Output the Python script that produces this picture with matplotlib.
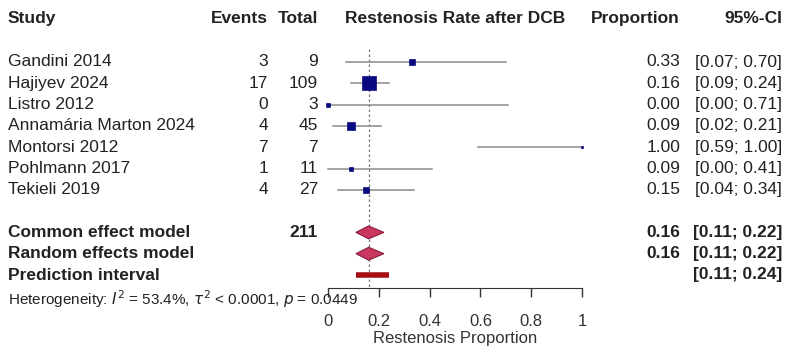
import matplotlib.pyplot as plt
from matplotlib.transforms import blended_transform_factory
from matplotlib.patches import Polygon

plt.rcParams['font.family'] = ['Liberation Sans', 'DejaVu Sans']

studies = ["Gandini 2014", "Hajiyev 2024", "Listro 2012", "Annamária Marton 2024",
           "Montorsi 2012", "Pohlmann 2017", "Tekieli 2019"]
events = [3, 17, 0, 4, 7, 1, 4]
totals = [9, 109, 3, 45, 7, 11, 27]
prop = [0.33, 0.16, 0.00, 0.09, 1.00, 0.09, 0.15]
ci_low = [0.07, 0.09, 0.00, 0.02, 0.59, 0.00, 0.04]
ci_high = [0.70, 0.24, 0.71, 0.21, 1.00, 0.41, 0.34]
weights = [7.4, 46.0, 1.9, 13.0, 1.3, 3.3, 7.4]  # approx. % weight (square size)

common = (0.16, 0.11, 0.22)
random_eff = (0.16, 0.11, 0.22)
pred_int = (0.11, 0.24)
total_n = 211

W, H = 788, 354
fig = plt.figure(figsize=(W / 100, H / 100), dpi=100)

row_h = 21.3
y0 = 62  # pixel row of first study
ax_bottom_px = 288
ax = fig.add_axes([328 / W, (H - ax_bottom_px) / H, 254 / W, ax_bottom_px / H])
ax.set_xlim(0, 1)
ax.set_ylim((ax_bottom_px - y0) / row_h, -y0 / row_h)

for s in ["top", "right", "left"]:
    ax.spines[s].set_visible(False)
ax.spines["bottom"].set_color("#333333")
ax.set_yticks([])
ax.set_xticks([0, 0.2, 0.4, 0.6, 0.8, 1])
ax.set_xticklabels(["0", "0.2", "0.4", "0.6", "0.8", "1"])
ax.tick_params(axis="x", length=6.5, width=1, colors="#333333", labelsize=12, pad=12)
ax.set_xlabel("Restenosis Proportion", fontsize=12, color="#333333", labelpad=2)
ax.patch.set_alpha(0)

ink = "#222222"
navy = "#0a0a80"

# reference line at pooled estimate
ax.plot([common[0], common[0]], [-0.6, 10.6], ls=(0, (2, 2)), color="#777777", lw=0.9,
        clip_on=False)

n = len(studies)
for i in range(n):
    ax.plot([ci_low[i], ci_high[i]], [i, i], color="#8a8a8a", lw=1.1, clip_on=False,
            zorder=2)
    side_px = 2.2 * weights[i] ** 0.5
    ax.plot(prop[i], i, marker="s", ms=side_px / 1.39, color=navy, mec=navy, mew=0.5,
            ls="none", clip_on=False, zorder=3)

def diamond(row, est, lo, hi):
    pts = [(lo, row), (est, row - 0.3), (hi, row), (est, row + 0.3)]
    ax.add_patch(Polygon(pts, closed=True, facecolor="#c8375f", edgecolor="#8b1a3a",
                         lw=0.8, zorder=4))

diamond(n + 1, *common)
diamond(n + 2, *random_eff)
ax.plot(list(pred_int), [n + 3, n + 3], color="#a50f15", lw=4, solid_capstyle="butt")

tr = blended_transform_factory(fig.transFigure, ax.transData)
fs = 12.5

def txt(xpx, row, s, ha="left", bold=False, size=fs):
    fig.text(xpx / W, row, s, transform=tr, ha=ha, va="center", fontsize=size,
             color=ink, fontweight="bold" if bold else "normal")

hdr = -2.05
txt(8, hdr, "Study", bold=True)
txt(268, hdr, "Events", ha="right", bold=True)
txt(318, hdr, "Total", ha="right", bold=True)
txt(455, hdr, "Restenosis Rate after DCB", ha="center", bold=True)
txt(680, hdr, "Proportion", ha="right", bold=True)
txt(782, hdr, "95%-CI", ha="right", bold=True)

for i in range(n):
    txt(8, i, studies[i])
    txt(268, i, str(events[i]), ha="right")
    txt(318, i, str(totals[i]), ha="right")
    txt(680, i, f"{prop[i]:.2f}", ha="right")
    txt(782, i, f"[{ci_low[i]:.2f}; {ci_high[i]:.2f}]", ha="right")

txt(8, n + 1, "Common effect model", bold=True)
txt(318, n + 1, str(total_n), ha="right", bold=True)
txt(680, n + 1, f"{common[0]:.2f}", ha="right", bold=True)
txt(782, n + 1, f"[{common[1]:.2f}; {common[2]:.2f}]", ha="right", bold=True)

txt(8, n + 2, "Random effects model", bold=True)
txt(680, n + 2, f"{random_eff[0]:.2f}", ha="right", bold=True)
txt(782, n + 2, f"[{random_eff[1]:.2f}; {random_eff[2]:.2f}]", ha="right", bold=True)

txt(8, n + 3, "Prediction interval", bold=True)
txt(782, n + 3, f"[{pred_int[0]:.2f}; {pred_int[1]:.2f}]", ha="right", bold=True)

txt(8, n + 4.12, r"Heterogeneity: $I^2$ = 53.4%, $\tau^2$ < 0.0001, $p$ = 0.0449", size=11)

fig.savefig("out.png", dpi=100, facecolor="white")
